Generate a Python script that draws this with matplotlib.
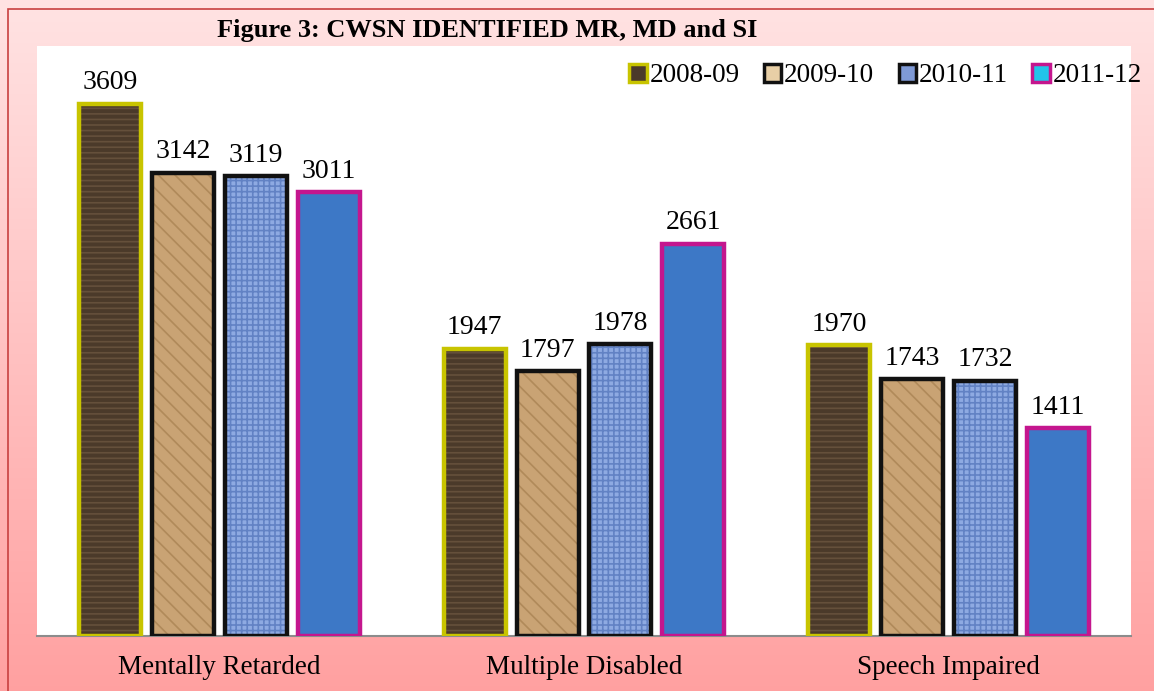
import numpy as np
import matplotlib
matplotlib.use("Agg")
import matplotlib.pyplot as plt
from matplotlib.patches import Patch, Rectangle

# -------------------------------------------------------------------------
# Data
# -------------------------------------------------------------------------
categories = ["Mentally Retarded", "Multiple Disabled", "Speech Impaired"]
years = ["2008-09", "2009-10", "2010-11", "2011-12"]
v_2008 = [3609, 1947, 1970]
v_2009 = [3142, 1797, 1743]
v_2010 = [3119, 1978, 1732]
v_2011 = [3011, 2661, 1411]
series = [v_2008, v_2009, v_2010, v_2011]

# fill, hatch colour, hatch, border, legend inner colour
styles = [
    ("#4b3a2a", "#65503b", "---", "#c8c400", "#4b3a2a"),
    ("#c9a374", "#b08a5a", "\\\\", "#111111", "#e8cfa6"),
    ("#8eaae2", "#6282c4", "+++", "#111111", "#7f9ad6"),
    ("#3d78c6", None, None, "#c4168e", "#22c4ea"),
]

plt.rcParams['font.family'] = ['Liberation Serif', 'DejaVu Serif']
plt.rcParams['hatch.linewidth'] = 1.2

W, H = 1154, 691
fig = plt.figure(figsize=(W / 100, H / 100), dpi=100)

# pink gradient background
bg = fig.add_axes([0, 0, 1, 1], zorder=-5)
grad = np.linspace(0, 1, 256).reshape(-1, 1)
top = np.array([1.0, 0.89, 0.89])
bot = np.array([1.0, 0.63, 0.63])
img = top + (bot - top) * grad[:, :, None]
bg.imshow(img, aspect='auto', extent=[0, 1, 0, 1])
bg.set_xlim(0, 1)
bg.set_ylim(0, 1)
bg.axis('off')
bg.add_patch(Rectangle((8 / W, -0.1), 1.2, 1 - 9 / H + 0.1, fill=False,
                       edgecolor="#c84040", linewidth=1.2))

ax = fig.add_axes([37 / W, 1 - 636 / H, (1131 - 37) / W, (636 - 46) / H])
ax.set_facecolor("white")

x = np.arange(len(categories))
step = 0.2
width = 0.17
for i, vals in enumerate(series):
    face, hcol, hatch, border, _ = styles[i]
    pos = x + (i - 1.5) * step
    if hatch:
        ax.bar(pos, vals, width, color=face, edgecolor=hcol, hatch=hatch,
               linewidth=0, zorder=2)
    else:
        ax.bar(pos, vals, width, color=face, linewidth=0, zorder=2)
    ax.bar(pos, vals, width, fill=False, edgecolor=border, linewidth=3.2, zorder=3)
    for px, v in zip(pos, vals):
        ax.annotate(str(v), (px, v), xytext=(0, 6), textcoords='offset points',
                    ha='center', va='bottom', fontsize=20)

ax.set_xlim(-0.5, 2.5)
ax.set_ylim(0, 4000)
ax.set_xticks(x)
ax.set_xticklabels(categories, fontsize=19.5)
ax.tick_params(axis='x', length=0, pad=14)
ax.set_yticks([])
for s in ['top', 'right', 'left']:
    ax.spines[s].set_visible(False)
ax.spines['bottom'].set_color('#8c8c8c')
ax.spines['bottom'].set_linewidth(1.5)
ax.spines['bottom'].set_zorder(1)

fig.text(487 / W, 1 - 30 / H, "Figure 3: CWSN IDENTIFIED MR, MD and SI",
         ha='center', va='center', fontsize=19, fontweight='bold')

handles = [Patch(facecolor=s[4], edgecolor=s[3], linewidth=2.5) for s in styles]
fig.legend(handles, years, loc='center right', ncol=4, frameon=False,
           bbox_to_anchor=(1142 / W, 1 - 76 / H), fontsize=19.5,
           handlelength=0.65, handleheight=0.65, handletextpad=0.1,
           columnspacing=0.9, borderpad=0, borderaxespad=0)

fig.savefig("out.png", dpi=100)
